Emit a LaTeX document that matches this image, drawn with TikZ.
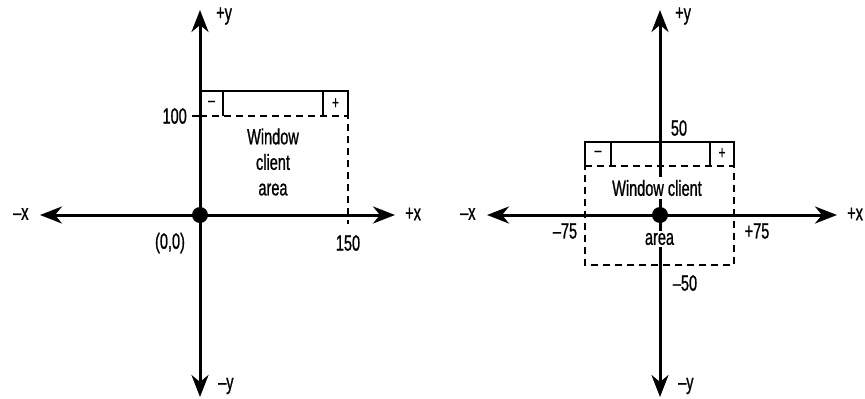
\documentclass[tikz,border=0pt]{standalone}
\usepackage{fontspec}
\setmainfont{Liberation Sans}[FakeStretch=0.66,FakeBold=0.9]
\usetikzlibrary{arrows.meta}
\begin{document}
\begin{tikzpicture}[x=1pt,y=-1pt,
  >={Stealth[length=22pt,width=17pt,inset=7pt]},
  axis/.style={line width=3pt,<->},
  win/.style={line width=1.1pt},
  dwin/.style={line width=1.1pt,dash pattern=on 7pt off 5pt},
  lbl/.style={font=\fontsize{22}{24}\selectfont,inner sep=1pt},
  btn/.style={font=\fontsize{18}{18}\selectfont,inner sep=0pt},
  blank/.style={lbl,fill=white,inner sep=3pt},
  dot/.style={circle,fill,minimum size=16pt,inner sep=0pt}]
\useasboundingbox (0,0) rectangle (865,399);
% ---------------- left diagram ----------------
\coordinate (Lxl) at (40,215);
\coordinate (Lxr) at (395,215);
\coordinate (Lyt) at (200,10);
\coordinate (Lyb) at (200,397);
\draw[axis] (Lxl) -- (Lxr);
\draw[axis] (Lyb) -- (Lyt);
% window
\coordinate (LA) at (200,91);
\coordinate (LB) at (348,91);
\coordinate (LC) at (348,116);
\coordinate (LD) at (200,116);
\coordinate (LE) at (348,224);
\draw[win] (LD) -- (LA) -- (LB) -- (LC);
\draw[win] (223,91) -- (223,116);
\draw[win] (323,91) -- (323,116);
\draw[dwin] (LD) -- (LC) -- (LE);
\draw[win] (192,116) -- (LD);
\node[btn] (Lmin) at (211.5,103.5) {–};
\node[btn] (Lplus) at (335.5,103.5) {+};
\node[lbl,align=center,font=\fontsize{22}{25.5}\selectfont] (Ltext) at (273,162) {Window\\client\\area};
\node[lbl,anchor=east] (L100) at (188,116) {100};
\node[lbl] (L00) at (170,243) {(0,0)};
\node[lbl] (L150) at (348,243) {150};
\node[lbl,anchor=west] (Lmx) at (12,214) {–x};
\node[lbl,anchor=west] (Lpx) at (404,214) {+x};
\node[lbl,anchor=west] (Lpy) at (215,16) {+y};
\node[lbl,anchor=west] (Lmy) at (217,386) {–y};
\node[dot] (Lo) at (200,215) {};
% ---------------- right diagram ----------------
\coordinate (Rxl) at (487,215);
\coordinate (Rxr) at (837,215);
\coordinate (Ryt) at (660,10);
\coordinate (Ryb) at (660,397);
\coordinate (RA) at (585,142);
\coordinate (RB) at (734,142);
\coordinate (RC) at (734,166);
\coordinate (RD) at (585,166);
\coordinate (RE) at (734,265);
\coordinate (RF) at (585,265);
\draw[win] (RD) -- (RA) -- (RB) -- (RC);
\draw[win] (611,142) -- (611,166);
\draw[win] (710,142) -- (710,166);
\draw[dwin] (RD) -- (RC) -- (RE) -- (RF) -- cycle;
\draw[axis] (Rxl) -- (Rxr);
\draw[axis] (Ryb) -- (Ryt);
\node[btn] (Rmin) at (598,153.5) {–};
\node[btn] (Rplus) at (722,153.5) {+};
\node[blank] (Rwc) at (657,188) {Window client};
\node[blank,inner ysep=2pt] (Rarea) at (659.5,239) {area};
\node[lbl] (R50) at (679,128) {50};
\node[lbl] (Rm50) at (685,283) {–50};
\node[lbl] (Rm75) at (565,231) {–75};
\node[lbl] (Rp75) at (757,231) {+75};
\node[lbl,anchor=west] (Rmx) at (459,214) {–x};
\node[lbl,anchor=west] (Rpx) at (846,214) {+x};
\node[lbl,anchor=west] (Rpy) at (674,16) {+y};
\node[lbl,anchor=west] (Rmy) at (677,386) {–y};
\node[dot] (Ro) at (660,215) {};
\end{tikzpicture}
\end{document}
